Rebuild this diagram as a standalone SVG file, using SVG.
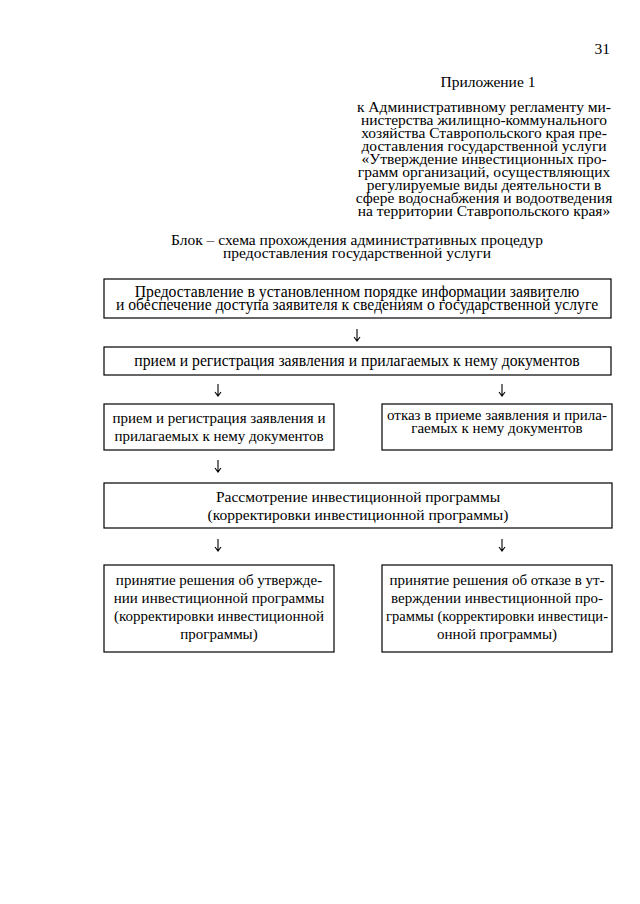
<svg xmlns="http://www.w3.org/2000/svg" width="640" height="904" viewBox="0 0 640 904">
<style>
text{font-family:"Liberation Serif","Times New Roman",serif;font-size:15.5px;fill:#000}
.c{text-anchor:middle}
.s{font-size:15px}
.w{font-size:15.7px}
.b{fill:#fff;stroke:#000;stroke-width:1.2}
.ar{fill:none;stroke:#000;stroke-width:1.1}
</style>
<rect width="640" height="904" fill="#fff"/>
<g id="header">
<text x="610" y="54" text-anchor="end">31</text>
<text class="c" x="488" y="87">Приложение 1</text>
<text class="c" x="484" y="112">к Административному регламенту ми-</text>
<text class="c" x="484" y="125">нистерства жилищно-коммунального</text>
<text class="c" x="484" y="138">хозяйства Ставропольского края пре-</text>
<text class="c" x="484" y="151">доставления государственной услуги</text>
<text class="c" x="484" y="164">«Утверждение инвестиционных про-</text>
<text class="c" x="484" y="177">грамм организаций, осуществляющих</text>
<text class="c" x="484" y="190">регулируемые виды деятельности в</text>
<text class="c" x="484" y="203">сфере водоснабжения и водоотведения</text>
<text class="c" x="484" y="216">на территории Ставропольского края»</text>
</g>
<g id="title">
<text class="c" x="357" y="245">Блок – схема прохождения административных процедур</text>
<text class="c" x="357" y="258">предоставления государственной услуги</text>
</g>
<g id="n1">
<rect class="b" x="104" y="279" width="507" height="39"/>
<text class="c w" x="357" y="297">Предоставление в установленном порядке информации заявителю</text>
<text class="c w" x="357" y="310">и обеспечение доступа заявителя к сведениям о государственной услуге</text>
</g>
<g id="n2">
<rect class="b" x="104" y="347" width="507" height="28"/>
<text class="c w" x="357" y="366">прием и регистрация заявления и прилагаемых к нему документов</text>
</g>
<g id="n3">
<rect class="b" x="104" y="404" width="230" height="46"/>
<text class="c s" x="219" y="423">прием и регистрация заявления и</text>
<text class="c s" x="219" y="441">прилагаемых к нему документов</text>
</g>
<g id="n4">
<rect class="b" x="382" y="404" width="230" height="46"/>
<text class="c s" x="497" y="420">отказ в приеме заявления и прила-</text>
<text class="c s" x="497" y="433">гаемых к нему документов</text>
</g>
<g id="n5">
<rect class="b" x="104" y="483" width="508" height="45"/>
<text class="c" x="358" y="502">Рассмотрение инвестиционной программы</text>
<text class="c" x="358" y="520">(корректировки инвестиционной программы)</text>
</g>
<g id="n6">
<rect class="b" x="104" y="565" width="230" height="87"/>
<text class="c s" x="219" y="585">принятие решения об утвержде-</text>
<text class="c s" x="219" y="603">нии инвестиционной программы</text>
<text class="c s" x="219" y="621">(корректировки инвестиционной</text>
<text class="c s" x="219" y="639">программы)</text>
</g>
<g id="n7">
<rect class="b" x="382" y="565" width="230" height="87"/>
<text class="c s" x="497" y="585">принятие решения об отказе в ут-</text>
<text class="c s" x="497" y="603">верждении инвестиционной про-</text>
<text class="c s" x="497" y="621" textLength="222" lengthAdjust="spacingAndGlyphs">граммы (корректировки инвестици-</text>
<text class="c s" x="497" y="639">онной программы)</text>
</g>
<g id="connectors">
<path class="ar" d="M357,329 V341 M354,337 L357,341 L360,337"/>
<path class="ar" d="M218,384 V396 M215,392 L218,396 L221,392"/>
<path class="ar" d="M502,384 V396 M499,392 L502,396 L505,392"/>
<path class="ar" d="M218,460 V472 M215,468 L218,472 L221,468"/>
<path class="ar" d="M218,539 V551 M215,547 L218,551 L221,547"/>
<path class="ar" d="M502,539 V551 M499,547 L502,551 L505,547"/>
</g>
</svg>
